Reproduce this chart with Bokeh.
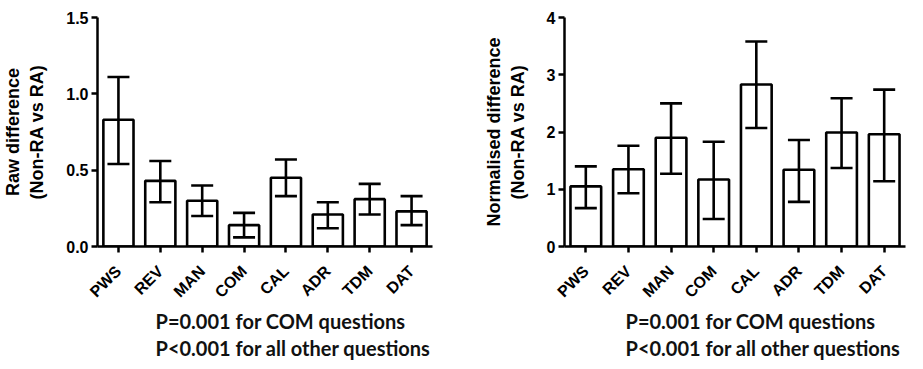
from math import pi
from bokeh.plotting import figure
from bokeh.models import (ColumnDataSource, FactorRange, Range1d, Whisker, TeeHead,
                          FixedTicker, Title)
from bokeh.layouts import row
from bokeh.embed import file_html
from bokeh.resources import INLINE

cats = ["PWS", "REV", "MAN", "COM", "CAL", "ADR", "TDM", "DAT"]
raw_mean = [0.83, 0.43, 0.30, 0.14, 0.45, 0.21, 0.31, 0.23]
raw_upper = [1.11, 0.56, 0.40, 0.22, 0.57, 0.29, 0.41, 0.33]
raw_lower = [0.54, 0.29, 0.20, 0.06, 0.33, 0.12, 0.21, 0.14]
norm_mean = [1.05, 1.35, 1.90, 1.17, 2.83, 1.34, 1.99, 1.96]
norm_upper = [1.40, 1.76, 2.50, 1.83, 3.58, 1.86, 2.59, 2.74]
norm_lower = [0.67, 0.93, 1.27, 0.48, 2.07, 0.78, 1.37, 1.14]
raw_ticks = [0, 0.5, 1.0, 1.5]
raw_tick_labels = {0: "0.0", 0.5: "0.5", 1.0: "1.0", 1.5: "1.5"}
norm_ticks = [0, 1, 2, 3, 4]
note_lines = ["P=0.001 for COM questions", "P<0.001 for all other questions"]

AX_FONT = "Liberation Sans"
NOTE_FONT = "Lato"


def panel(mean, lower, upper, ymax, ticks, tick_labels, ylabel, width, border_right, note_x):
    src = ColumnDataSource(dict(cat=cats, mean=mean, lower=lower, upper=upper))
    p = figure(x_range=FactorRange(factors=cats, range_padding=0),
               y_range=Range1d(0, ymax), width=width, height=361,
               min_border_left=89, min_border_right=border_right,
               min_border_top=17, min_border_bottom=115,
               output_backend="svg", toolbar_location=None)
    p.vbar(x="cat", top="mean", width=0.72, source=src, fill_color="white",
           line_color="black", line_width=2.6)
    w = Whisker(source=src, base="cat", lower="lower", upper="upper",
                dimension="height", line_color="black", line_width=2.6,
                upper_head=TeeHead(size=22, line_width=2.6, line_color="black"),
                lower_head=TeeHead(size=22, line_width=2.6, line_color="black"))
    w.level = "overlay"
    p.add_layout(w)
    p.grid.visible = False
    p.outline_line_color = None
    for ax in (p.xaxis[0], p.yaxis[0]):
        ax.axis_line_width = 2.5
        ax.axis_line_color = "black"
        ax.major_tick_line_width = 2.5
        ax.major_tick_line_color = "black"
        ax.major_tick_out = 6
        ax.major_tick_in = 0
        ax.minor_tick_line_color = None
        ax.major_label_text_font = AX_FONT
        ax.major_label_text_font_style = "bold"
        ax.major_label_text_font_size = "16px"
        ax.major_label_text_color = "black"
    p.xaxis.major_label_orientation = pi / 4
    p.xaxis.major_label_standoff = 16
    p.yaxis.ticker = FixedTicker(ticks=ticks)
    if tick_labels:
        p.yaxis.major_label_overrides = tick_labels
    p.yaxis.major_label_standoff = 3
    p.yaxis.axis_label = ylabel
    p.yaxis.axis_label_text_font = AX_FONT
    p.yaxis.axis_label_text_font_style = "bold"
    p.yaxis.axis_label_text_font_size = "18px"
    p.yaxis.axis_label_text_color = "black"
    p.yaxis.axis_label_standoff = 16
    p.add_layout(Title(text="\n".join(note_lines), align="left", offset=note_x,
                       standoff=-6, text_font=NOTE_FONT, text_font_style="bold",
                       text_font_size="20px", text_line_height=1.15,
                       text_color="#111111"), "below")
    return p


p1 = panel(raw_mean, raw_lower, raw_upper, 1.5, raw_ticks, raw_tick_labels,
           "Raw difference\n(Non-RA vs RA)", 475, 43, 58)
p2 = panel(norm_mean, norm_lower, norm_upper, 4, norm_ticks, None,
           "Normalised difference\n(Non-RA vs RA)", 432, 2, 61)

layout = row(p1, p2)
open("out.html", "w").write(file_html(layout, INLINE))
